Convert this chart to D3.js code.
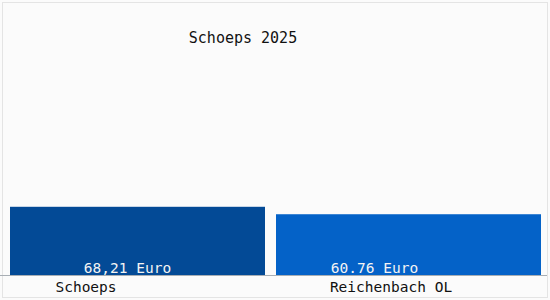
<!DOCTYPE html>
<html><head><meta charset="utf-8">
<script src="https://cdn.jsdelivr.net/npm/d3@7"></script>
<style>html,body{margin:0;padding:0;background:#fff;}svg{display:block;}</style>
</head><body>
<svg id="c" width="550" height="300"></svg>
<script>
const title = "Schoeps 2025";
const categories = ["Schoeps", "Reichenbach OL"];
const values = [68.21, 60.76];
const valueLabels = ["68,21 Euro", "60.76 Euro"];
const colors = ["#034a96", "#0462c8"];

const svg = d3.select("#c");
const W = 550, H = 300;
svg.append("rect").attr("x",0).attr("y",0).attr("width",W).attr("height",H).attr("fill","#fbfbfb");
svg.append("rect").attr("x",2.5).attr("y",2.5).attr("width",545).attr("height",295)
  .attr("fill","none").attr("stroke","#e4e4e4");

const baseY = 275;
const y = d3.scaleLinear().domain([0, 275]).range([baseY, 0]);
const barX = [10, 276], barW = [255, 265];
const labelCx = [127.5, 374.5], catCx = [86, 391];

const g = svg.append("g");
g.selectAll("rect.bar").data(values).join("rect").attr("class","bar")
  .attr("x",(d,i)=>barX[i]).attr("width",(d,i)=>barW[i])
  .attr("y",d=>y(d)).attr("height",d=>baseY - y(d))
  .attr("fill",(d,i)=>colors[i]);

svg.append("line").attr("x1",0).attr("x2",547).attr("y1",275.5).attr("y2",275.5)
  .attr("stroke","#a8aeb4").attr("stroke-width",1);

const font = "'DejaVu Sans Mono', monospace";
g.selectAll("text.val").data(valueLabels).join("text").attr("class","val")
  .attr("x",(d,i)=>labelCx[i]).attr("y",273).attr("text-anchor","middle")
  .attr("font-family",font).attr("font-size",14.5).attr("fill","#f4f4f4").text(d=>d);

g.selectAll("text.cat").data(categories).join("text").attr("class","cat")
  .attr("x",(d,i)=>catCx[i]).attr("y",292).attr("text-anchor","middle")
  .attr("font-family",font).attr("font-size",14.5).attr("fill","#111").text(d=>d);

svg.append("text").attr("x",243).attr("y",43).attr("text-anchor","middle")
  .attr("font-family",font).attr("font-size",15).attr("fill","#111").text(title);
</script>
</body></html>
